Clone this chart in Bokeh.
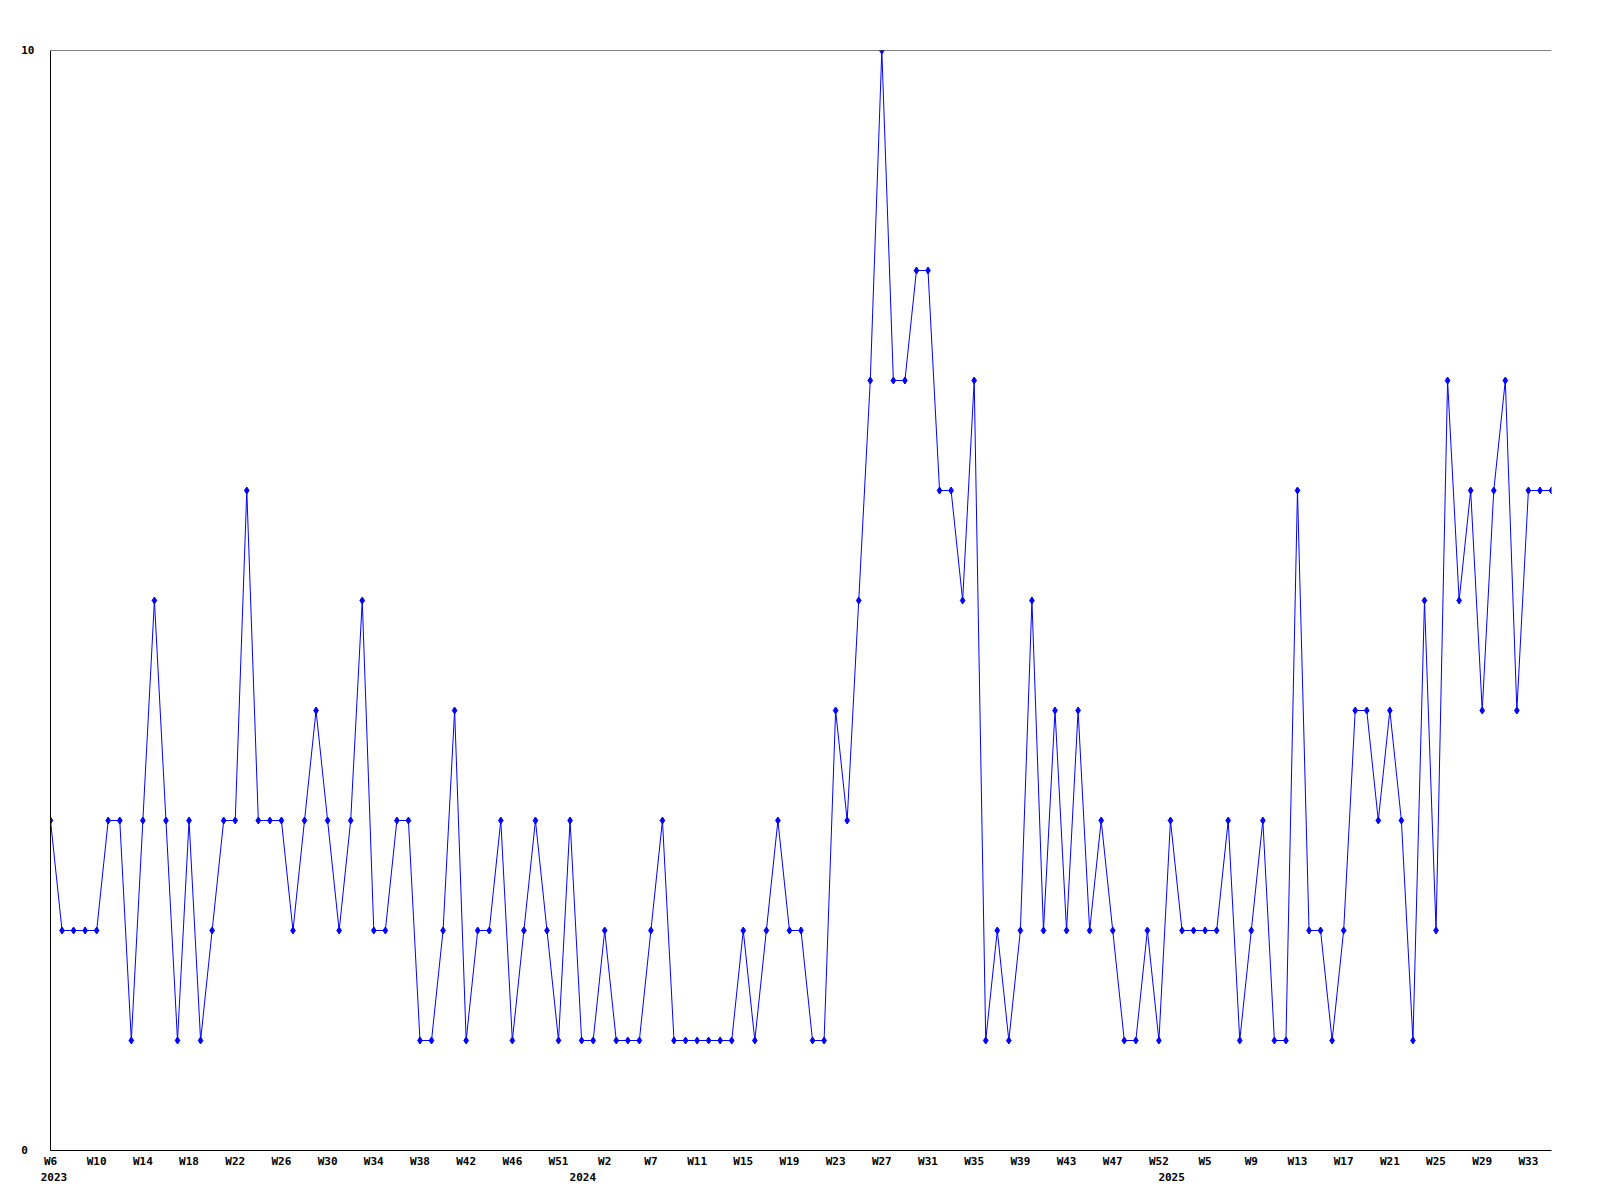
from bokeh.plotting import figure
from bokeh.models import Range1d, FixedTicker, LinearAxis, Span, ColumnDataSource
from bokeh.embed import file_html
from bokeh.resources import INLINE

# weekly values, 2023-W6 onwards
values = [3, 2, 2, 2, 2, 3, 3, 1, 3, 5,
          3, 1, 3, 1, 2, 3, 3, 6, 3, 3,
          3, 2, 3, 4, 3, 2, 3, 5, 2, 2,
          3, 3, 1, 1, 2, 4, 1, 2, 2, 3,
          1, 2, 3, 2, 1, 3, 1, 1, 2, 1,
          1, 1, 2, 3, 1, 1, 1, 1, 1, 1,
          2, 1, 2, 3, 2, 2, 1, 1, 4, 3,
          5, 7, 10, 7, 7, 8, 8, 6, 6, 5,
          7, 1, 2, 1, 2, 5, 2, 4, 2, 4,
          2, 3, 2, 1, 1, 2, 1, 3, 2, 2,
          2, 2, 3, 1, 2, 3, 1, 1, 6, 2,
          2, 1, 2, 4, 4, 3, 4, 3, 1, 5,
          2, 7, 5, 6, 4, 6, 7, 4, 6, 6,
          6]
week_index = list(range(len(values)))

tick_index = list(range(0, 129, 4))
tick_labels = ["W6", "W10", "W14", "W18", "W22", "W26", "W30", "W34", "W38", "W42", "W46",
               "W51", "W2", "W7", "W11", "W15", "W19", "W23", "W27", "W31", "W35", "W39", "W43", "W47",
               "W52", "W5", "W9", "W13", "W17", "W21", "W25", "W29", "W33"]
year_labels = ["2023", "2024", "2025"]
year_index = [0.3, 46.1, 97.1]
y_ticks = [0, 10]
y_labels = ["0\u00a0", "10"]

FONT = "DejaVu Sans Mono"
FS = "11px"

src = ColumnDataSource(dict(x=week_index, y=values))

p = figure(width=1581, height=1192, x_range=Range1d(0, 130), y_range=Range1d(0, 10),
           output_backend="svg", toolbar_location=None,
           min_border_left=50, min_border_top=50, min_border_right=30, min_border_bottom=42)
p.background_fill_color = "white"
p.border_fill_color = "white"
p.outline_line_color = None
p.xgrid.grid_line_color = None
p.ygrid.grid_line_color = None

p.line("x", "y", source=src, line_color="#0000ff", line_width=1)
p.scatter("x", "y", source=src, marker="diamond", size=7, fill_color="#0000ff",
          line_color="#0000ff", line_width=1)

p.add_layout(Span(location=10, dimension="width", line_color="black", line_width=1))

xa = p.xaxis[0]
xa.ticker = FixedTicker(ticks=tick_index)
xa.major_label_overrides = {t: lab for t, lab in zip(tick_index, tick_labels)}
xa.major_tick_line_color = None
xa.minor_tick_line_color = None
xa.major_tick_out = 0
xa.major_tick_in = 0
xa.major_label_standoff = 4
xa.axis_line_color = "black"
xa.major_label_text_font = FONT
xa.major_label_text_font_style = "bold"
xa.major_label_text_font_size = FS
xa.major_label_text_color = "black"

ya = p.yaxis[0]
ya.ticker = FixedTicker(ticks=y_ticks)
ya.major_label_overrides = {t: lab for t, lab in zip(y_ticks, y_labels)}
ya.major_tick_line_color = None
ya.minor_tick_line_color = None
ya.major_tick_out = 0
ya.major_tick_in = 0
ya.major_label_standoff = 16
ya.axis_line_color = "black"
ya.major_label_text_font = FONT
ya.major_label_text_font_style = "bold"
ya.major_label_text_font_size = FS
ya.major_label_text_color = "black"

year_axis = LinearAxis(ticker=FixedTicker(ticks=year_index),
                       major_label_overrides={t: lab for t, lab in zip(year_index, year_labels)})
year_axis.axis_line_color = None
year_axis.major_tick_line_color = None
year_axis.minor_tick_line_color = None
year_axis.major_tick_out = 0
year_axis.major_tick_in = 0
year_axis.major_label_standoff = 2
year_axis.major_label_text_font = FONT
year_axis.major_label_text_font_style = "bold"
year_axis.major_label_text_font_size = FS
year_axis.major_label_text_color = "black"
p.add_layout(year_axis, "below")

open("out.html", "w").write(file_html(p, INLINE))
